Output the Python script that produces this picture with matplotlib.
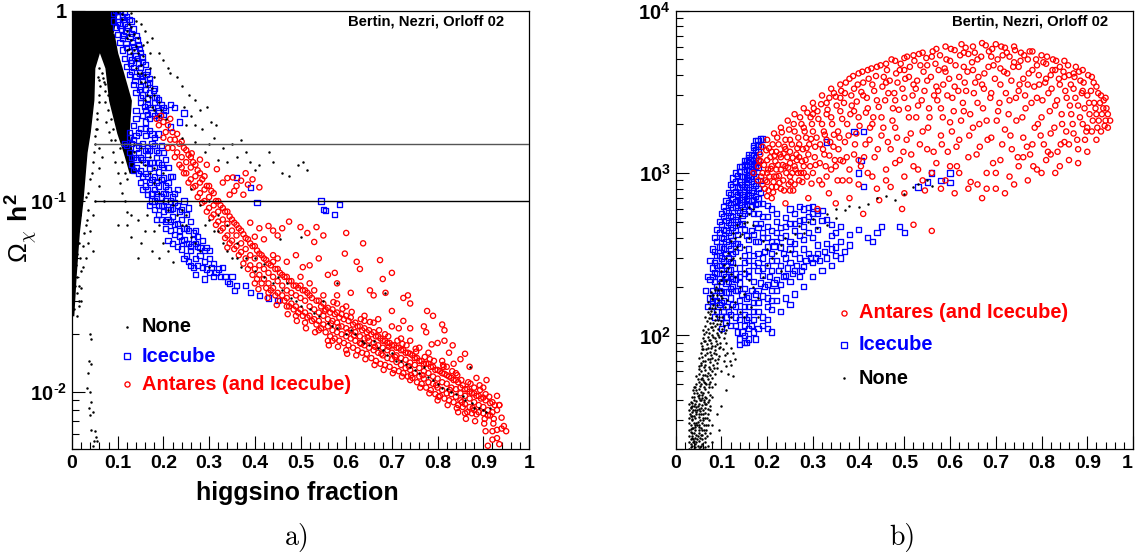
import matplotlib
matplotlib.use("Agg")
import matplotlib.pyplot as plt
from matplotlib.ticker import FixedLocator, NullFormatter

plt.rcParams['font.family'] = ['Liberation Sans', 'DejaVu Sans']
plt.rcParams['mathtext.fontset'] = 'custom'
plt.rcParams['mathtext.rm'] = 'Liberation Sans'
plt.rcParams['mathtext.bf'] = 'Liberation Sans:bold'
plt.rcParams['mathtext.it'] = 'cmmi10'
plt.rcParams['mathtext.fallback'] = 'cm'

W, H = 1135, 560

# ---------- panel a: higgsino fraction vs relic density ----------
a_red = [(.185,.27),(.19,.25),(.195,.28),(.2,.26),(.205,.23),(.21,.25),(.215,.21),(.22,.23),(.22,.19),(.225,.21),
(.23,.18),(.235,.2),(.24,.17),(.24,.15),(.245,.19),(.25,.16),(.25,.14),(.255,.175),(.26,.15),(.26,.13),
(.265,.16),(.27,.135),(.27,.12),(.275,.145),(.28,.125),(.28,.11),(.285,.13),(.29,.115),(.29,.1),(.295,.12),
(.3,.105),(.3,.092),(.305,.113),(.31,.095),(.31,.085),(.315,.1),(.32,.088),(.32,.078),(.325,.095),(.33,.08),
(.33,.072),(.335,.088),(.34,.076),(.34,.066),(.345,.083),(.35,.07),(.35,.062),(.355,.077),(.36,.066),(.36,.058),
(.365,.072),(.37,.06),(.37,.054),(.375,.067),(.38,.056),(.38,.05),(.385,.063),(.39,.052),(.39,.046),(.395,.058),
(.4,.05),(.4,.044),(.405,.055),(.41,.046),(.41,.041),(.415,.052),(.42,.044),(.42,.039),(.425,.049),(.43,.042),
(.43,.037),(.435,.046),(.44,.04),(.44,.035),(.445,.044),(.45,.038),(.45,.033),(.455,.042),(.46,.036),(.46,.032),
(.465,.04),(.47,.034),(.47,.031),(.475,.038),(.48,.033),(.48,.029),(.485,.036),(.49,.032),(.49,.028),(.495,.035),
(.5,.031),(.5,.027),(.505,.034),(.51,.03),(.51,.026),(.515,.033),(.52,.028),(.52,.025),(.525,.031),(.53,.027),
(.53,.024),(.535,.03),(.54,.026),(.54,.0235),(.545,.028),(.55,.025),(.55,.0225),(.555,.027),(.56,.024),(.56,.022),
(.565,.026),(.57,.0235),(.57,.021),(.575,.0255),(.58,.023),(.58,.0205),(.585,.0245),(.59,.022),(.59,.02),(.595,.024),
(.6,.0215),(.6,.0195),(.605,.0235),(.61,.021),(.61,.019),(.615,.0225),(.62,.0205),(.62,.0185),(.625,.022),(.63,.0195),
(.63,.018),(.635,.021),(.64,.019),(.64,.0175),(.645,.0205),(.65,.0185),(.65,.017),(.655,.02),(.66,.018),(.66,.0165),
(.665,.0195),(.67,.0175),(.67,.016),(.675,.019),(.68,.017),(.68,.0155),(.685,.0185),(.69,.0165),(.69,.015),(.695,.018),
(.7,.016),(.7,.0148),(.705,.0175),(.71,.0155),(.71,.0143),(.715,.017),(.72,.015),(.72,.0138),(.725,.0165),(.73,.0147),
(.73,.0133),(.735,.016),(.74,.0142),(.74,.013),(.745,.0155),(.75,.0138),(.75,.0125),(.755,.015),(.76,.0133),(.76,.012),
(.765,.0145),(.77,.0128),(.77,.0117),(.775,.014),(.78,.0125),(.78,.0112),(.785,.0135),(.79,.012),(.79,.011),(.795,.013),
(.8,.0117),(.8,.0105),(.805,.0128),(.81,.0112),(.81,.0102),(.815,.0124),(.82,.011),(.82,.0098),(.825,.012),(.83,.0105),
(.83,.0097),(.835,.0115),(.84,.0103),(.84,.0094),(.845,.0112),(.85,.0098),(.85,.009),(.855,.0108),(.86,.0095),(.86,.0086),
(.865,.0103),(.87,.0092),(.87,.0083),(.875,.0098),(.88,.0088),(.88,.008),(.885,.0095),(.89,.0085),(.89,.0078),(.895,.0092),
(.9,.0083),(.9,.0077),(.905,.009),(.91,.008),(.915,.0087),(.92,.0078),(.925,.0085),(.93,.008),(.935,.0085),(.915,.0075),
(.262,.178),(.28,.165),(.295,.155),(.317,.147),(.33,.125),(.34,.132),(.352,.133),(.36,.12),(.37,.128),(.38,.14),
(.385,.122),(.395,.13),(.41,.118),(.355,.113),(.375,.108),(.345,.108),(.39,.077),(.41,.072),(.43,.074),(.45,.066),
(.46,.072),(.4,.065),(.42,.063),(.44,.07),(.475,.078),(.5,.073),(.515,.068),(.53,.061),(.55,.066),(.535,.073),
(.60,.068),(.637,.06),(.597,.053),(.674,.049),(.623,.048),(.63,.044),(.70,.042),(.68,.039),(.58,.037),(.505,.045),
(.52,.046),(.56,.041),(.47,.048),(.49,.052),(.54,.05),(.575,.042),(.652,.034),(.686,.033),(.66,.032),(.58,.032),
(.61,.033),(.725,.031),(.735,.032),(.74,.029),(.64,.025),(.70,.0265),(.67,.024),(.725,.0235),(.777,.0265),(.79,.025),
(.77,.022),(.775,.0205),(.81,.0225),(.815,.021),(.70,.022),(.685,.02),(.74,.0215),(.715,.0215),(.74,.0185),(.787,.0177),
(.8,.018),(.815,.0185),(.833,.0175),(.825,.016),(.81,.0145),(.86,.0158),(.85,.0148),(.835,.014),(.87,.0135),(.885,.0118),
(.907,.0115),(.905,.0097),(.93,.0095),(.935,.0085),(.94,.0073),(.945,.0066),(.94,.0064),(.95,.0062),(.93,.0063),(.92,.0062),
(.905,.0062),(.93,.0057),(.92,.0056),(.935,.0053),(.91,.0052)]

a_red_more = [(.2,.215),(.21,.19),(.215,.27),(.225,.17),(.23,.225),(.235,.155),(.24,.205),(.245,.14),(.25,.185),(.255,.125),
(.26,.17),(.265,.118),(.27,.155),(.275,.105),(.28,.14),(.285,.098),(.29,.135),(.295,.088),(.3,.12),(.305,.082),
(.31,.11),(.315,.075),(.32,.1),(.325,.07),(.33,.092),(.335,.064),(.34,.088),(.345,.06),(.35,.08),(.355,.056),
(.36,.075),(.365,.052),(.37,.07),(.375,.047),(.38,.064),(.385,.044),(.39,.06),(.395,.041),(.4,.058),(.405,.039),
(.41,.053),(.415,.037),(.42,.05),(.425,.035),(.43,.047),(.435,.034),(.44,.048),(.445,.032),(.45,.044),(.455,.03),
(.46,.041),(.465,.03),(.47,.04),(.475,.028),(.48,.038),(.485,.027),(.49,.036),(.495,.026),(.5,.036),(.505,.025),
(.51,.034),(.515,.0245),(.52,.032),(.525,.0235),(.53,.034),(.535,.0225),(.54,.03),(.545,.0215),(.55,.029),(.555,.0205),
(.56,.0275),(.565,.0195),(.57,.027),(.575,.019),(.58,.026),(.585,.0185),(.59,.0255),(.595,.018),(.6,.025),(.605,.0175),
(.61,.0245),(.615,.017),(.62,.023),(.625,.0165),(.63,.022),(.635,.016),(.64,.0215),(.645,.0158),(.65,.021),(.655,.015),
(.66,.0205),(.665,.0145),(.67,.0195),(.675,.014),(.68,.0185),(.685,.0138),(.69,.018),(.695,.0135),(.7,.0175),(.705,.013),
(.71,.017),(.715,.0128),(.72,.0165),(.725,.0125),(.73,.016),(.735,.012),(.74,.0158),(.745,.0118),(.75,.015),(.755,.0112),
(.76,.0145),(.765,.011),(.77,.014),(.775,.0105),(.78,.014),(.785,.0102),(.79,.0135),(.795,.0097),(.8,.013),(.805,.0095),
(.81,.0125),(.815,.0092),(.82,.0122),(.825,.009),(.83,.0118),(.835,.0088),(.84,.0115),(.845,.0085),(.85,.0105),(.855,.0083),
(.86,.0103),(.865,.0078),(.87,.01),(.875,.0077),(.88,.0098),(.885,.0076),(.89,.0095),(.9,.0093),(.91,.0075),(.92,.0088),
(.54,.021),(.57,.0185),(.47,.028),(.43,.033),(.55,.032),(.45,.05),(.44,.052),(.52,.037),(.5,.04),(.64,.0235),
(.58,.029),(.6,.028),(.66,.023),(.72,.019),(.76,.017),(.78,.016),(.84,.0125),(.88,.0105),(.9,.0105),(.82,.0135),
(.49,.025),(.51,.023),(.6,.0165),(.74,.0115),(.8,.009),(.845,.0078),(.86,.0077),(.56,.0185),(.4,.037),(.34,.057),
(.553,.0265),(.567,.0228),(.583,.0218),(.603,.0205),(.617,.0197),(.633,.0178),(.647,.0192),(.663,.0172),(.677,.0158),(.693,.0172),
(.707,.0152),(.723,.0178),(.737,.0136),(.753,.0162),(.767,.0122),(.783,.0148),(.797,.0108),(.813,.0135),(.827,.0102),(.843,.0122),
(.853,.0088),(.867,.0112),(.877,.0082),(.893,.0102),(.903,.0072),(.913,.0094),(.923,.0072),(.572,.0295),(.592,.0272),(.612,.0262),
(.632,.024),(.652,.0232),(.672,.021),(.692,.0195),(.712,.0185),(.732,.0175),(.752,.0168),(.772,.0152),(.792,.0145),(.812,.0138),
(.832,.0128),(.852,.0115),(.872,.011),(.892,.0108),(.562,.0175),(.582,.0172),(.602,.0158),(.622,.0155),(.642,.0148),(.662,.0138),
(.682,.013),(.702,.0125),(.722,.012),(.742,.0122),(.762,.0105),(.782,.0098),(.802,.0094),(.822,.0085),(.842,.0082),(.862,.0072),
(.882,.007),(.902,.0068),(.922,.0068),(.472,.0255),(.492,.0235),(.512,.0215),(.532,.0205),(.448,.0285),(.428,.031),(.408,.0345)]

a_blue = [(.095,1.0),(.105,1.0),(.115,.98),(.09,.97),(.1,.93),(.11,.93),(.12,.93),(.09,.88),(.1,.87),(.115,.86),
(.13,.88),(.095,.82),(.108,.8),(.122,.82),(.135,.8),(.1,.75),(.113,.74),(.127,.73),(.14,.74),(.105,.68),
(.118,.67),(.132,.68),(.145,.66),(.11,.62),(.125,.61),(.138,.62),(.15,.6),(.115,.56),(.13,.55),(.143,.56),
(.155,.54),(.12,.51),(.135,.5),(.15,.5),(.165,.48),(.125,.46),(.14,.45),(.155,.45),(.17,.44),(.135,.41),
(.15,.4),(.165,.41),(.18,.39),(.14,.37),(.155,.36),(.17,.37),(.185,.35),(.15,.33),(.165,.32),(.18,.33),
(.195,.32),(.16,.3),(.175,.29),(.19,.3),(.205,.3),(.215,.32),(.225,.31),(.17,.27),(.19,.275),(.16,.26),
(.14,.27),(.145,.23),(.135,.25),(.15,.24),(.16,.22),(.17,.235),(.18,.215),(.19,.225),(.115,.2),(.125,.215),
(.135,.21),(.145,.195),(.155,.2),(.165,.19),(.175,.2),(.185,.185),(.195,.195),(.125,.18),(.135,.17),(.145,.18),
(.155,.165),(.165,.175),(.175,.16),(.185,.17),(.195,.155),(.205,.165),(.21,.15),(.13,.155),(.14,.15),(.15,.145),
(.16,.14),(.17,.148),(.18,.135),(.19,.142),(.2,.132),(.21,.125),(.22,.135),(.15,.125),(.16,.12),(.17,.125),
(.18,.115),(.19,.12),(.2,.11),(.21,.115),(.22,.105),(.23,.115),(.165,.108),(.175,.1),(.185,.105),(.195,.095),
(.205,.1),(.215,.09),(.225,.098),(.235,.088),(.245,.1),(.255,.092),(.18,.09),(.19,.085),(.2,.088),(.21,.08),
(.22,.083),(.23,.076),(.24,.08),(.25,.072),(.26,.078),(.27,.07),(.205,.072),(.215,.07),(.225,.067),(.235,.065),
(.245,.063),(.255,.06),(.265,.063),(.275,.058),(.285,.062),(.295,.057),(.24,.056),(.25,.052),(.26,.055),(.27,.05),
(.28,.052),(.29,.048),(.3,.05),(.31,.047),(.26,.046),(.32,.044),(.33,.045),(.3,.042),(.31,.04),(.35,.04),
(.34,.038),(.36,.036),(.38,.036),(.39,.033),(.41,.032),(.43,.031),(.45,.03),(.27,.041),(.29,.039),(.555,.089),
(.575,.085),(.585,.096),(.545,.1),(.55,.09),(.405,.098),(.36,.133),(.39,.118),(.215,.245),(.235,.26),(.245,.29)]

a_blue_more = [(.1,.99),(.112,.9),(.125,.9),(.105,.84),(.118,.78),(.13,.76),(.143,.7),(.11,.71),(.12,.64),(.135,.65),
(.148,.63),(.125,.57),(.14,.58),(.153,.57),(.128,.53),(.145,.53),(.16,.52),(.13,.48),(.148,.47),(.162,.46),(.138,.43),
(.155,.43),(.17,.42),(.148,.385),(.16,.385),(.178,.38),(.15,.35),(.165,.345),(.18,.35),(.19,.34),(.158,.315),(.172,.31),
(.187,.31),(.2,.31),(.165,.285),(.18,.28),(.2,.285),(.14,.3),(.155,.28),(.125,.23),(.14,.22),(.16,.24),(.175,.225),
(.12,.195),(.13,.2),(.14,.19),(.16,.185),(.17,.185),(.18,.195),(.19,.18),(.2,.18),(.13,.17),(.14,.165),(.15,.17),
(.16,.16),(.17,.16),(.18,.15),(.19,.16),(.2,.15),(.135,.145),(.145,.14),(.155,.135),(.165,.135),(.175,.13),(.185,.125),
(.195,.13),(.205,.12),(.215,.135),(.155,.115),(.165,.115),(.175,.11),(.185,.11),(.195,.105),(.205,.11),(.215,.1),
(.225,.11),(.17,.095),(.18,.1),(.19,.095),(.2,.095),(.21,.09),(.22,.092),(.23,.095),(.24,.09),(.25,.085),(.185,.08),
(.195,.08),(.205,.078),(.215,.078),(.225,.075),(.235,.07),(.245,.072),(.255,.07),(.265,.068),(.275,.065),(.21,.062),
(.22,.06),(.23,.058),(.24,.062),(.25,.06),(.26,.058),(.27,.06),(.28,.057),(.29,.055),(.3,.055),(.245,.05),(.255,.048),
(.265,.045),(.275,.046),(.285,.045),(.295,.044),(.305,.045),(.315,.042),(.325,.04),(.335,.04),(.345,.037),(.355,.034)]

a_black_points = [(.055,.24),(.06,.19),(.058,.15),(.06,.12),(.065,.17),(.05,.1),(.07,.1),(.045,.085),(.04,.07),(.035,.06),
(.045,.055),(.03,.05),(.025,.045),(.02,.035),(.015,.03),(.012,.025),(.04,.02),(.042,.019),(.038,.0145),(.042,.014),
(.036,.0125),(.032,.0105),(.04,.01),(.042,.0088),(.038,.0082),(.04,.0075),(.045,.0078),(.042,.0063),(.05,.0062),(.048,.0055),
(.045,.0052),(.052,.0058),(.055,.0055),
(.075,.26),(.08,.23),(.085,.21),(.09,.18),(.095,.16),(.1,.14),(.105,.125),(.11,.11),(.115,.1),(.12,.088),
(.13,.085),(.145,.08),(.16,.07),(.165,.085),(.18,.07),(.19,.075),(.2,.06),(.21,.055),(.15,.06),(.175,.055),
(.13,.065),(.12,.075),(.145,.05),(.19,.05),(.22,.048),(.1,.075),(.21,.08),(.24,.09),
(.175,.72),(.19,.6),(.2,.55),(.21,.5),(.215,.47),(.23,.45),(.24,.4),(.255,.36),(.27,.34),(.28,.3),
(.295,.31),(.305,.26),(.315,.25),(.26,.28),(.245,.31),(.25,.25),(.27,.25),(.285,.24),(.3,.2),(.31,.215),
(.33,.19),(.35,.2),(.37,.21),(.36,.17),(.38,.18),(.39,.16),(.41,.155),(.4,.145),(.43,.18),(.44,.16),
(.46,.14),(.475,.135),(.495,.155),(.505,.16),(.515,.145),(.29,.18),(.32,.165),(.34,.16),(.24,.215),(.27,.205),
(.13,.97),(.14,.88),(.16,.78),(.165,.68),(.15,.85),(.17,.6),(.11,.9),(.12,.78),(.13,.7),(.12,.62),
(.13,.6),(.14,.55),(.15,.52),(.145,.47),(.16,.42),(.15,.42),(.17,.35),(.16,.34),(.18,.3),(.175,.31),
(.19,.28),(.1,.98),(.11,.96),(.125,.85),(.135,.75),(.12,.72),(.14,.65),(.155,.58),(.17,.5),(.18,.45),
(.135,.2),(.15,.19),(.17,.17),(.18,.15),(.16,.155),(.19,.13),(.2,.14),(.21,.1),(.2,.1),(.22,.095),
(.24,.075),(.26,.065),(.28,.055),(.3,.045),(.25,.085),(.29,.075),(.31,.07),(.33,.06),(.35,.05),(.37,.045),
(.38,.05),(.4,.043),(.42,.04),(.44,.037),(.46,.034),(.48,.031),(.5,.028),(.52,.027),(.54,.025),(.56,.023),
(.58,.0215),(.6,.02),(.62,.02),(.635,.0185),(.65,.0175),(.67,.017),(.69,.0155),(.7,.016),(.72,.0145),(.74,.0135),
(.76,.0125),(.78,.012),(.8,.011),(.82,.0103),(.84,.0097),(.855,.0095),(.875,.0087),(.89,.0082),(.905,.0078),(.915,.0082),
(.58,.037),(.685,.033),(.87,.0135),(.5,.065),(.455,.063),
(.125,.63),(.135,.62),(.145,.6),(.14,.5),(.15,.47),(.16,.46),(.125,.74),(.13,.82),(.145,.72),(.155,.66),
(.165,.4),(.175,.39),(.165,.36),(.18,.36),(.19,.33),(.195,.3),(.205,.27),(.135,.18),(.15,.16),(.17,.14),
(.18,.125),(.19,.11),(.21,.09),(.23,.085),(.25,.075),(.27,.06),(.32,.07),(.34,.055),(.36,.05),(.3,.08),
(.26,.115),(.28,.095),(.3,.1),(.32,.085),(.34,.075),(.36,.06),(.4,.05),(.42,.047),(.45,.04),(.47,.037),
(.49,.03),(.53,.026),(.55,.03),(.57,.022),(.61,.021),(.64,.018),(.66,.0185),(.68,.0165),(.71,.0145),(.73,.014),
(.75,.013),(.77,.0135),(.79,.0115),(.81,.0105),(.83,.01),(.86,.009),(.88,.0082),(.9,.008),
(.01,.09),(.018,.085),(.032,.08),(.012,.072),(.026,.068),(.015,.06),(.025,.058),(.01,.053),(.018,.05),(.008,.046),
(.02,.043),(.012,.04),(.006,.036),(.015,.036),(.01,.033),(.02,.03),(.016,.028),(.005,.027),(.035,.09),(.03,.075),
(.03,.105),(.036,.11),(.04,.13),(.043,.14),(.045,.16),(.048,.18),(.05,.2),(.05,.22),(.052,.24),(.055,.27),
(.055,.29),(.058,.33),(.06,.36),(.062,.4),(.06,.43),(.056,.45),(.065,.47),(.06,.5),(.068,.44),(.07,.42),
(.072,.38),(.072,.33),(.078,.3),(.085,.27),(.073,.41),(.078,.36),(.09,.24),(.095,.21),(.105,.19),(.11,.16),
(.115,.14),(.12,.13)]

# y edges and x edges of the saturated (fully black) areas of panel a
a_core_y = [1.0, .76, .6, .5, .34, .23, .18, .1, .068, .04, .025]
a_core_x = [.1, .09, .06, .05, .048, .04, .033, .024, .016, .009, .004]
a_arm_y = [.76, .6, .5, .338, .227, .18, .14]
a_arm_lo = [.06, .06, .072, .08, .098, .112, .125]
a_arm_hi = [.092, .1, .11, .13, .125, .132, .14]
a_limits = [0.2, 0.1]

# ---------- panel b ----------
b_red = [(.18,1100),(.185,1300),(.19,1000),(.19,1450),(.195,800),(.2,1200),(.2,1600),(.205,950),(.21,700),(.21,1350),
(.215,1750),(.22,1050),(.22,820),(.225,1500),(.23,1250),(.23,1900),(.235,900),(.24,650),(.24,1100),(.24,1600),
(.245,2100),(.25,780),(.25,1350),(.255,1000),(.26,1800),(.26,2300),(.265,1200),(.27,900),(.27,1500),(.275,2000),
(.28,2500),(.28,1100),(.285,1650),(.29,700),(.29,1300),(.295,2200),(.3,2700),(.3,1000),(.3,1800),(.305,1450),
(.31,600),(.31,2400),(.315,1150),(.32,3000),(.32,850),(.32,2000),(.325,1300),(.33,1600),(.33,2700),(.335,750),
(.34,3300),(.34,1050),(.34,2200),(.345,1450),(.35,650),(.35,2950),(.355,1800),(.36,3500),(.36,1200),(.36,2400),
(.365,900),(.37,1550),(.37,3100),(.375,2000),(.38,3800),(.38,700),(.38,1050),(.385,2600),(.39,1300),(.39,3300),
(.395,1750),(.4,4100),(.4,850),(.4,2200),(.405,1100),(.41,3000),(.41,560),(.415,1500),(.42,4300),(.42,2500),
(.425,1900),(.43,950),(.43,3500),(.435,1250),(.44,4500),(.44,2800),(.445,680),(.45,1700),(.45,2200),(.455,3900),
(.46,1050),(.46,4700),(.465,3100),(.47,1400),(.47,820),(.475,2500),(.48,4900),(.48,1900),(.485,3600),(.49,1200),
(.49,4300),(.495,600),(.5,5100),(.5,2900),(.5,950),(.505,1600),(.51,2200),(.51,3900),(.515,1300),(.52,5300),
(.52,480),(.525,3300),(.53,1050),(.53,2600),(.535,4600),(.54,5500),(.54,1800),(.545,780),(.55,3700),(.55,1400),
(.555,2200),(.56,5200),(.56,440),(.565,3000),(.57,5800),(.57,1150),(.575,4300),(.58,1700),(.58,2500),(.585,3500),
(.59,6000),(.59,900),(.595,1350),(.6,4900),(.6,2050),(.605,2900),(.61,5700),(.61,750),(.615,1100),(.62,3900),
(.62,1600),(.625,6200),(.63,2400),(.63,4500),(.635,3200),(.64,5400),(.64,1250),(.645,880),(.65,6000),(.65,1900),
(.655,3600),(.66,2700),(.66,5000),(.665,1450),(.67,6300),(.67,700),(.675,4100),(.68,1000),(.68,2100),(.685,5600),
(.69,3100),(.69,1650),(.695,4600),(.7,6200),(.7,800),(.705,2400),(.71,1200),(.71,3500),(.715,5300),(.72,1850),
(.72,5900),(.725,4100),(.73,2800),(.73,950),(.735,1400),(.74,6000),(.74,4800),(.745,2100),(.75,3200),(.75,1100),
(.755,5500),(.76,1650),(.76,3800),(.765,2500),(.77,5000),(.77,900),(.775,1300),(.78,5600),(.78,4300),(.785,1900),
(.79,2900),(.79,1050),(.795,3500),(.8,5300),(.8,2200),(.805,1500),(.81,4700),(.81,1200),(.815,3100),(.82,4000),
(.82,1750),(.825,5000),(.83,2600),(.83,1000),(.835,1350),(.84,3500),(.84,4500),(.845,2000),(.85,1550),(.85,4900),
(.855,2900),(.86,1200),(.86,4000),(.865,2300),(.87,3300),(.87,1750),(.875,4500),(.88,1400),(.88,2600),(.885,3700),
(.89,2000),(.89,4300),(.895,1600),(.9,3000),(.9,1350),(.905,2300),(.91,3900),(.91,1800),(.915,2700),(.92,3400),
(.92,1600),(.925,2100),(.93,3000),(.93,1800),(.935,2500),(.94,2100),(.94,2900),(.945,2300),(.945,1900),(.95,2100),
(.2,880),(.21,1100),(.22,1350),(.23,1050),(.24,1400),(.25,1150),(.2,1000),(.215,950),(.23,800),(.25,950),
(.26,1100),(.26,850),(.27,1250),(.28,1000),(.18,900),(.19,850),(.2,720),(.21,820),(.22,950),(.17,1000),
(.33,950),(.35,1100),(.38,900),(.4,1200),(.42,1000),(.44,800),(.46,900),(.48,1150),(.5,750),(.52,1100),
(.54,900),(.56,1000),(.58,800),(.6,1100),(.62,1000),(.64,800),(.66,850),(.68,800),(.7,1000),(.72,750),
(.74,850),(.76,1250),(.78,1500),(.8,1000),(.82,1300),(.84,1100),(.86,1500),(.88,1150),(.9,1900),(.92,2300),
(.25,1600),(.28,1900),(.3,2300),(.33,2300),(.36,2900),(.39,2400),(.41,3600),(.43,2000),(.46,3600),(.48,2800),
(.5,4300),(.52,3500),(.55,4600),(.57,3400),(.59,4200),(.61,3400),(.63,5500),(.65,4300),(.67,3500),(.69,5200),
(.71,4400),(.73,5200),(.75,4500),(.77,3500),(.79,4600),(.81,3800),(.83,4300),(.85,3900),(.87,4100),(.89,3200)]

b_red_more = [(.182,1200),(.187,950),(.193,1120),(.198,1380),(.202,1050),(.207,1250),(.212,1500),(.214,880),(.218,1180),(.222,1650),
(.226,960),(.228,1300),(.232,1780),(.234,1120),(.238,1450),(.242,1000),(.244,1250),(.248,1850),(.252,880),(.254,1500),
(.258,2000),(.262,1050),(.264,1300),(.268,1650),(.272,2200),(.274,1000),(.278,1400),(.282,1800),(.284,1200),(.288,2350),
(.292,1500),(.294,1100),(.298,2000),(.302,2500),(.304,1250),(.308,1650),(.312,2150),(.314,900),(.318,2650),(.322,1400),
(.324,1800),(.328,1100),(.332,2450),(.336,2900),(.338,1550),(.342,2000),(.346,3100),(.348,1200),(.352,2600),(.354,900),
(.358,1650),(.362,3200),(.364,2150),(.368,2700),(.372,3600),(.374,1250),(.378,1700),(.382,2300),(.384,3000),(.388,3950),
(.392,1500),(.396,2750),(.398,3500),(.402,1950),(.406,3150),(.408,4200),(.412,1250),(.416,2350),(.418,2900),(.422,3800),
(.424,1600),(.428,4400),(.432,2200),(.434,3200),(.438,3950),(.442,1400),(.444,2550),(.448,4600),(.452,3400),(.454,1900),
(.458,2800),(.462,4300),(.464,1550),(.468,3700),(.472,5000),(.474,2100),(.478,3100),(.482,4100),(.484,1650),(.488,2450),
(.492,4700),(.496,3300),(.498,1350),(.502,3800),(.506,5200),(.508,2500),(.512,4500),(.514,1750),(.518,3000),(.522,4900),
(.526,2200),(.528,3700),(.532,5400),(.534,1500),(.538,2800),(.542,4200),(.544,3200),(.548,5100),(.552,1900),(.554,2500),
(.558,3900),(.562,5600),(.564,1350),(.568,4700),(.572,2800),(.574,3200),(.578,5300),(.582,1500),(.584,2200),(.588,4400),
(.592,5000),(.594,3000),(.598,3800),(.602,5800),(.604,1800),(.608,2400),(.612,4600),(.614,1450),(.618,3200),(.622,5300),
(.624,2100),(.628,2700),(.632,3600),(.634,5900),(.638,4200),(.642,1700),(.644,2300),(.648,4800),(.652,3100),(.654,5500),
(.658,1300),(.662,3900),(.664,2000),(.668,5200),(.672,2500),(.674,3300),(.678,6100),(.682,1600),(.684,4500),(.688,2900),
(.692,5800),(.694,1150),(.698,3800),(.702,2100),(.704,5000),(.708,2700),(.712,6000),(.714,1500),(.718,4200),(.722,3100),
(.724,5500),(.728,2300),(.732,1700),(.734,3700),(.738,4500),(.742,5700),(.744,2900),(.748,1250),(.752,3500),(.754,4900),
(.758,2200),(.762,5300),(.764,3000),(.768,1450),(.772,4100),(.774,5600),(.778,2700),(.782,1100),(.784,3400),(.788,5000),
(.792,2000),(.794,4000),(.798,1700),(.802,2800),(.804,4800),(.808,3600),(.812,5200),(.814,1350),(.818,2400),(.822,3300),
(.824,4300),(.828,1900),(.832,4900),(.834,2800),(.838,3800),(.842,1500),(.844,2300),(.848,4200),(.852,3200),(.854,1800),
(.858,4600),(.862,2600),(.864,3500),(.868,2000),(.872,3900),(.874,2900),(.878,1600),(.882,4200),(.884,2200),(.888,3100),
(.892,3600),(.894,2500),(.898,1800),(.902,4000),(.904,2700),(.908,3200),(.912,2100),(.914,3600),(.918,2500),(.922,1900),
(.924,3100),(.928,2700),(.932,2300),(.936,2800),(.938,1950),(.942,2500),
(.186,1180),(.196,900),(.204,1420),(.208,1060),(.216,1280),(.224,1120),(.236,1320),(.246,1080),(.256,1240),(.266,1420),
(.276,1180),(.286,1420),(.296,1620),(.306,1120),(.316,1500),(.326,1720),(.336,1280),(.346,1720),(.356,1400),(.366,1180),
(.203,780),(.213,760),(.227,870),(.237,780),(.247,850),(.257,780),(.267,1000),(.277,880),(.287,950),(.297,860)]

b_blue = [(.07,150),(.075,170),(.08,190),(.08,150),(.085,215),(.085,175),(.09,240),(.09,200),(.09,165),(.095,270),
(.095,225),(.095,190),(.1,300),(.1,255),(.1,215),(.105,340),(.105,285),(.105,240),(.11,380),(.11,320),
(.11,270),(.11,230),(.115,430),(.115,360),(.115,300),(.115,255),(.12,480),(.12,410),(.12,340),(.12,285),
(.125,540),(.125,460),(.125,385),(.125,320),(.13,610),(.13,520),(.13,440),(.13,370),(.135,680),(.135,590),
(.135,500),(.135,420),(.14,760),(.14,660),(.14,570),(.14,480),(.145,850),(.145,740),(.145,640),(.145,550),
(.15,950),(.15,830),(.15,720),(.15,620),(.155,1050),(.155,930),(.155,810),(.155,700),(.16,1180),(.16,1040),
(.16,910),(.16,790),(.165,1300),(.165,1150),(.165,1020),(.165,890),(.17,1440),(.17,1280),(.17,1130),(.17,990),
(.17,860),(.175,1580),(.175,1400),(.175,1240),(.175,1090),(.18,1500),(.18,1350),(.18,1200),(.185,1620),(.185,1450),
(.15,560),(.16,680),(.165,760),(.175,720),(.18,650),(.145,490),(.135,370),(.13,330),(.12,255),(.11,210),
(.1,185),(.105,165),(.115,215),(.125,280),(.19,650),(.2,630),(.21,600),(.22,560),
(.12,230),(.13,220),(.14,260),(.15,240),(.16,290),(.17,270),(.18,320),(.19,300),(.2,350),(.21,320),
(.22,380),(.23,350),(.24,410),(.25,380),(.26,440),(.27,410),(.28,470),(.29,430),(.3,500),(.31,450),
(.1,130),(.11,150),(.12,170),(.13,190),(.14,210),(.15,195),(.16,230),(.17,215),(.18,250),(.19,235),
(.2,270),(.21,250),(.22,290),(.23,270),(.24,300),(.25,280),(.26,320),(.27,300),(.28,340),(.29,320),
(.1,110),(.11,120),(.12,135),(.13,150),(.14,165),(.15,150),(.16,175),(.17,160),(.18,190),(.19,175),
(.2,205),(.21,190),(.22,220),(.23,205),(.24,235),(.25,215),(.26,250),(.27,230),(.28,265),(.3,280),
(.13,115),(.14,125),(.15,115),(.16,130),(.17,125),(.18,140),(.19,130),(.2,150),(.21,145),(.22,165),
(.24,170),(.26,180),(.28,200),(.3,230),(.32,250),(.34,270),(.31,320),(.33,300),(.35,310),(.37,330),
(.14,95),(.15,100),(.16,95),(.14,88),(.155,90),(.2,110),(.21,105),(.19,115),
(.17,105),(.18,110),(.23,140),(.25,155),(.2,125),
(.16,390),(.17,420),(.18,460),(.19,430),(.2,470),(.21,440),(.22,500),(.23,460),(.24,530),(.25,490),
(.26,560),(.27,510),(.28,600),(.29,540),(.3,620),(.31,560),(.32,590),(.33,520),(.34,480),(.35,430),
(.36,470),(.38,420),(.4,450),(.42,400),(.44,430),(.45,470),(.43,380),(.16,340),(.18,380),(.2,400),
(.22,430),(.24,470),(.26,490),(.28,520),(.3,560),(.32,510),(.34,410),(.36,380),(.38,360),(.3,400),
(.28,390),(.26,370),(.31,360),(.33,370),(.35,350),(.29,610),(.31,590),(.27,620),(.25,600),
(.39,1800),(.41,1800),(.405,1200),(.4,1000),(.41,830),(.33,1550),(.5,430),(.49,470),(.53,820),(.55,880),
(.58,900),(.6,870),(.56,1000),(.6,1000)]

b_blue_more = [(.085,400),(.09,450),(.095,500),(.1,560),(.105,620),(.11,680),(.115,760),(.12,850),(.125,930),(.13,1000),
(.14,1100),(.15,1200),(.16,1300),(.17,1480),(.18,1580),(.19,1620),(.08,340),(.075,290),(.07,230),(.065,190),
(.085,330),(.09,380),(.095,430),(.1,480),(.105,540),(.11,590),(.115,660),(.12,740),(.125,820),(.13,880),
(.135,960),(.14,1020),(.145,1100),(.15,1130),(.155,1190),(.16,1240),(.08,260),(.085,280),(.09,310),(.095,350),
(.1,400),(.105,450),(.11,510),(.115,570),(.12,640),(.125,700),(.13,770),(.135,820),(.14,880),(.145,950),
(.15,1020),(.155,1120),(.075,220),(.08,230),(.085,245),(.09,270),(.095,310),(.1,350),(.105,395),(.11,440),
(.115,495),(.12,550),(.125,610),(.13,670),(.135,740),(.14,810),(.145,690),(.15,770),(.155,870),(.16,970),
(.165,1090),(.17,1200),(.165,950),(.17,1060),(.175,1160),(.175,950),(.18,1080),(.175,840),(.18,800),(.185,760),
(.185,900),(.17,780),(.16,730),(.165,680),(.155,640),(.16,590),(.165,620),(.17,690),(.175,640),(.18,700),
(.17,560),(.18,560),(.175,490),(.185,490),(.19,540),(.2,540),(.15,450),(.155,410),(.165,440),(.175,380),
(.19,400),(.21,380),(.23,400),(.14,350),(.15,310),(.16,250),(.17,310),(.18,280),(.19,260),(.21,290),
(.15,280),(.14,230),(.13,240),(.125,200),(.135,190),(.145,180),(.155,170),(.165,190),(.175,180),(.185,210),
(.195,200),(.205,230),(.215,210),(.225,250),(.235,230),(.245,260),(.255,240),(.265,270),(.275,250),(.285,290),
(.295,300),(.305,300),(.315,290),(.325,330),(.34,340),(.36,300),(.25,340),(.235,320),(.215,355),(.195,330),
(.11,130),(.12,115),(.13,130),(.14,140),(.15,135),(.16,150),(.17,140),(.18,160),(.115,140),(.125,155),
(.145,105),(.165,115),(.155,125),(.135,105),(.2,170),(.21,165),(.22,190),(.15,90),(.16,110),(.175,95),
(.12,195),(.11,185),(.1,160),(.09,140),(.08,165),(.095,155),(.085,130),(.105,140),(.115,185),(.125,225)]

b_black = [(.03,20),(.035,21),(.04,20),(.045,22),(.05,20),(.055,21),(.06,20),(.065,22),(.07,21),(.08,22),
(.03,22),(.038,23),(.048,24),(.058,23),(.068,24),(.03,24),(.035,25),(.042,26),(.052,25),(.062,26),
(.03,26),(.038,27),(.047,28),(.056,27),(.066,28),(.075,25),(.03,29),(.036,30),(.044,29),(.053,30),
(.063,31),(.072,30),(.03,31),(.04,32),(.05,33),(.06,33),(.07,33),(.032,33),(.038,35),(.046,35),
(.055,36),(.065,36),(.075,37),(.03,35),(.036,37),(.043,38),(.052,38),(.061,39),(.07,39),(.034,39),
(.04,40),(.03,38),(.05,41),(.057,41),(.066,41),(.08,28),(.09,33),(.095,26),(.1,37),(.11,46),
(.035,42),(.04,44),(.045,46),(.05,43),(.055,45),(.06,44),(.065,47),(.07,45),(.075,43),(.08,42),
(.04,48),(.045,50),(.05,52),(.055,50),(.06,53),(.065,51),(.07,54),(.075,52),(.08,55),(.085,50),
(.045,56),(.05,58),(.055,60),(.06,57),(.065,61),(.07,59),(.075,62),(.08,60),(.085,58),(.09,63),
(.05,65),(.055,68),(.06,70),(.065,66),(.07,72),(.075,69),(.08,73),(.085,71),(.09,68),(.095,75),
(.05,73),(.055,78),(.06,82),(.065,76),(.07,84),(.075,79),(.08,86),(.085,81),(.09,88),(.095,84),
(.055,90),(.06,96),(.065,92),(.07,98),(.075,94),(.08,100),(.085,96),(.09,103),(.095,98),(.1,105),
(.105,96),(.11,90),(.12,84),(.125,78),(.13,72),(.105,70),(.11,65),(.115,58),(.125,56),(.1,60),
(.06,108),(.065,115),(.07,110),(.075,120),(.08,113),(.085,125),(.09,118),(.095,130),(.1,122),(.105,115),
(.11,108),(.065,130),(.07,140),(.075,135),(.08,148),(.085,140),(.09,155),(.07,160),(.075,175),(.08,168),
(.085,190),(.09,178),(.095,210),(.1,190),(.105,230),(.11,215),(.115,260),(.12,240),(.125,300),(.13,270),
(.135,350),(.14,300),(.145,420),(.15,350),(.155,500),(.16,400),(.16,620),(.17,480),(.15,250),(.16,220),
(.17,200),(.18,170),(.19,230),(.2,270),(.13,160),(.14,140),(.15,130),(.165,150),(.18,130),(.12,130),
(.19,380),(.2,340),(.21,300),(.22,320),(.23,360),(.24,400),(.26,420),(.27,470),(.28,430),(.29,500),
(.3,520),(.31,460),(.33,560),(.35,600),(.37,590),(.38,630),(.4,620),(.42,640),(.44,700),(.46,720),
(.48,680),(.5,740),(.52,820),(.53,860),(.55,900),(.56,830),(.33,480),(.35,530),(.25,330),(.23,250),
(.033,20.5),(.043,20.5),(.053,20.5),(.063,20.5),(.033,21.5),(.043,21.5),(.048,21),(.058,21.5),(.037,22),(.052,22.5),
(.033,23),(.043,23.5),(.053,23.5),(.063,23.5),(.035,24),(.045,24.5),(.055,24.5),(.065,25),(.033,25.5),(.04,25),
(.05,26),(.058,26),(.035,27),(.043,27.5),(.052,27.5),(.061,28),(.033,28),(.04,29),(.048,29.5),(.058,29),
(.035,30.5),(.043,31),(.052,31.5),(.06,31),(.068,31),(.033,32),(.045,33),(.055,33),(.065,33.5),(.036,34),
(.042,35),(.05,35.5),(.06,35),(.07,35.5),(.033,36),(.04,37),(.048,37),(.057,37.5),(.067,38),(.035,38.5),
(.045,39.5),(.055,40),(.062,40),(.072,40),(.04,41.5),(.048,42.5),(.058,43),(.038,46),(.043,48),(.052,47),
(.062,48),(.072,48),(.048,54),(.058,55),(.068,56),(.052,62),(.062,64),(.072,64),(.082,66),(.058,74),
(.068,78),(.078,76),(.088,77),(.058,86),(.068,88),(.078,90),(.088,92),(.062,102),(.072,104),(.082,108),
(.092,110),(.068,122),(.078,128),(.088,132),(.072,148),(.082,155),(.092,165),(.078,185),(.088,200),(.098,175),
(.1,250),(.105,270),(.11,300),(.115,320),(.12,380),(.125,430),(.13,400),(.135,480),(.14,540),(.145,600),
(.1,220),(.11,250),(.12,290),(.13,340),(.14,410),(.15,490),(.16,560),(.17,600),(.13,230),(.14,200),(.15,180),
(.047,44),(.054,49),(.061,52),(.067,50),(.073,50),(.079,48),(.056,54),(.064,57),(.074,57),(.083,63),(.056,66),(.063,70),
(.074,72),(.083,78),(.092,72),(.057,82),(.067,82),(.077,84),(.087,86),(.097,90),(.062,92),(.072,94),(.082,98),(.092,100),
(.067,105),(.077,112),(.087,115),(.097,118),(.102,110),(.107,104),(.072,128),(.082,120),(.092,125),(.102,130),(.112,120),
(.077,142),(.087,148),(.097,145),(.107,150),(.082,178),(.092,190),(.102,170),(.112,165),(.122,150),(.097,85),(.103,82),
(.113,78),(.118,70),(.108,76),(.122,66),(.035,23.5),(.041,22.5),(.047,23),(.057,24.5),(.067,26),(.034,26.5),(.042,28),
(.05,28),(.06,30),(.07,28),(.036,32),(.044,34),(.054,34.5),(.064,38),(.074,35),(.034,36.5),(.044,36.5),(.053,40),(.063,42)]

# ---------- tick values and texts ----------
x_ticks = [0, .1, .2, .3, .4, .5, .6, .7, .8, .9, 1]
x_labels = ['0', '0.1', '0.2', '0.3', '0.4', '0.5', '0.6', '0.7', '0.8', '0.9', '1']
x_minor = [i / 50 for i in range(51)]
a_y_ticks = [1, .1, .01]
a_y_labels = ['1', r'$\mathbf{10}^{\text{-}\mathbf{1}}$', r'$\mathbf{10}^{\text{-}\mathbf{2}}$']
a_y_minor = [.9, .8, .7, .6, .5, .4, .3, .2, .09, .08, .07, .06, .05, .04, .03, .02, .009, .008, .007, .006, .005]
b_y_ticks = [1e4, 1e3, 1e2]
b_y_labels = [r'$\mathbf{10^{4}}$', r'$\mathbf{10^{3}}$', r'$\mathbf{10^{2}}$']
b_y_minor = [9000, 8000, 7000, 6000, 5000, 4000, 3000, 2000, 900, 800, 700, 600, 500, 400, 300, 200,
             90, 80, 70, 60, 50, 40, 30, 20]
credit = 'Bertin, Nezri, Orloff 02'
names = ['None', 'Icecube', 'Antares (and Icecube)']


def fx(p):
    return p / W


def fy(p):
    return 1 - p / H


fig = plt.figure(figsize=(W / 100, H / 100), dpi=100)
ax_a = fig.add_axes([fx(72), fy(449), fx(529 - 72), (449 - 10.5) / H])
ax_b = fig.add_axes([fx(675.7), fy(449), fx(1133 - 675.7), (449 - 10.5) / H])

RED = dict(marker='o', s=14, facecolors='none', edgecolors='#ff0000', linewidths=0.95)
BLUE = dict(marker='s', s=14, facecolors='none', edgecolors='#0000ff', linewidths=0.95)
BLK = dict(marker='o', s=3.2, c='black', linewidths=0)


def xy(points):
    return [p[0] for p in points], [p[1] for p in points]


ax_a.fill_betweenx(a_core_y, 0, a_core_x, color='black', lw=0, zorder=1)
ax_a.fill_betweenx(a_arm_y, a_arm_lo, a_arm_hi, color='black', lw=0, zorder=1)
ax_a.scatter(*xy(a_blue + a_blue_more), zorder=2, **BLUE)
ax_a.scatter(*xy(a_red + a_red_more), zorder=3, **RED)
ax_a.scatter(*xy(a_black_points), zorder=4, **BLK)
for v, c in zip(a_limits, ['#555555', 'black']):
    ax_a.plot([.05, 1], [v, v], color=c, lw=1.0, zorder=5)

ax_b.scatter(*xy(b_blue + b_blue_more), zorder=2, **BLUE)
ax_b.scatter(*xy(b_red + b_red_more), zorder=3, **RED)
ax_b.scatter(*xy(b_black), zorder=4, **BLK)

for ax, ylim, yt, yl, ym in [(ax_a, (.005, 1), a_y_ticks, a_y_labels, a_y_minor),
                             (ax_b, (20, 1e4), b_y_ticks, b_y_labels, b_y_minor)]:
    ax.set_xlim(0, 1)
    ax.set_yscale('log')
    ax.set_ylim(*ylim)
    ax.set_xticks(x_ticks)
    ax.set_xticklabels(x_labels, fontsize=14, fontweight='bold')
    ax.xaxis.set_minor_locator(FixedLocator(x_minor))
    ax.yaxis.set_major_locator(FixedLocator(yt))
    ax.set_yticklabels(yl, fontsize=14.5, fontweight='bold')
    ax.yaxis.set_minor_locator(FixedLocator(ym))
    ax.yaxis.set_minor_formatter(NullFormatter())
    ax.tick_params(which='major', direction='in', length=9.5, width=0.8)
    ax.tick_params(which='minor', direction='in', length=5, width=0.8)
    ax.tick_params(axis='x', which='major', pad=4)
    ax.tick_params(axis='y', which='major', pad=3.5)
    for s in ax.spines.values():
        s.set_linewidth(0.9)

ax_b.get_xticklabels()[-1].set_ha('right')

fig.text(fx(426), fy(21), credit, fontsize=10.7, fontweight='bold', ha='center', va='center')
fig.text(fx(1030), fy(21), credit, fontsize=10.7, fontweight='bold', ha='center', va='center')
fig.text(fx(297), fy(493), 'higgsino fraction', fontsize=18, fontweight='bold', ha='center', va='center')
fig.text(fx(22), fy(228), r'$\Omega_{\chi}\ \mathbf{h^{2}}$', fontsize=19, rotation=90, ha='center', va='center')
fig.text(fx(297), fy(537), 'a)', fontsize=20, family='cmr10', ha='center', va='center')
fig.text(fx(902), fy(537), 'b)', fontsize=20, family='cmr10', ha='center', va='center')

styles = [BLK, BLUE, RED]
colors = ['black', '#0000ff', '#ff0000']
a_rows = [327, 356, 384]
b_rows = [378, 345, 313]
for name, st, col, ra, rb in zip(names, styles, colors, a_rows, b_rows):
    for mx, tx, r in [(127, 142, ra), (844, 859, rb)]:
        fig.text(fx(tx), fy(r), name, color=col, fontsize=14.4, fontweight='bold', ha='left', va='center')
        fig.add_artist(plt.Line2D([fx(mx)], [fy(r)], marker=st['marker'], linestyle='none',
                                  markersize=3.7 if st is not BLK else 1.8,
                                  markerfacecolor='none' if st is not BLK else 'black',
                                  markeredgecolor=col, markeredgewidth=0.95 if st is not BLK else 0))

fig.savefig('out.png', dpi=100)
